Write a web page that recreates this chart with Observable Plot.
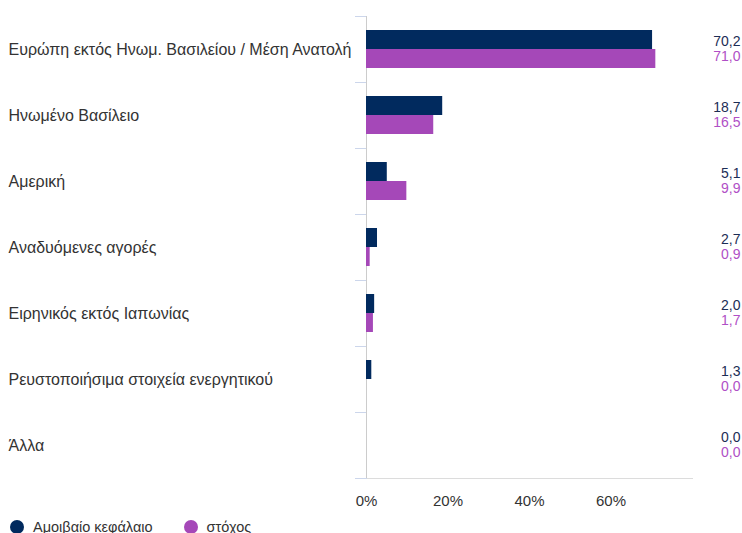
<!DOCTYPE html>
<html>
<head>
<meta charset="utf-8">
<script src="https://cdn.jsdelivr.net/npm/d3@7"></script>
<script src="https://cdn.jsdelivr.net/npm/@observablehq/plot@0.6"></script>
<style>
  html, body { margin: 0; padding: 0; background: #fff; }
  body { font-family: "Liberation Sans", Arial, sans-serif; width: 742px; overflow: hidden; }
  #chart svg { display: block; }
  #legend { display: flex; align-items: center; height: 29px; padding-left: 10px; font-size: 14.5px; color: #333; }
  .item { display: flex; align-items: center; }
  .item + .item { margin-left: 31px; }
  .dot { width: 14px; height: 14px; border-radius: 50%; margin-right: 9px; }
</style>
</head>
<body>
<div id="chart"></div>
<div id="legend"></div>
<script>
const categories = [
  "Ευρώπη εκτός Ηνωμ. Βασιλείου / Μέση Ανατολή",
  "Ηνωμένο Βασίλειο",
  "Αμερική",
  "Αναδυόμενες αγορές",
  "Ειρηνικός εκτός Ιαπωνίας",
  "Ρευστοποιήσιμα στοιχεία ενεργητικού",
  "Άλλα"
];
const seriesNames = ["Αμοιβαίο κεφάλαιο", "στόχος"];
const fundValues = [70.2, 18.7, 5.1, 2.7, 2.0, 1.3, 0.0];
const targetValues = [71.0, 16.5, 9.9, 0.9, 1.7, 0.0, 0.0];
const xTicks = [0, 20, 40, 60];
const seriesColors = ["#012a5e", "#a548b8"];
const labelColors = ["#1c2d55", "#b04fc6"];

const rows = categories.flatMap((c, i) => [
  {category: c, series: seriesNames[0], value: fundValues[i]},
  {category: c, series: seriesNames[1], value: targetValues[i]}
]);
const fmt = v => v.toFixed(1).replace(".", ",");

const W = 742, H = 512, ML = 366, MR = 50, MT = 13, MB = 32;
const plotW = W - ML - MR;

const chart = Plot.plot({
  width: W,
  height: H,
  marginLeft: ML,
  marginRight: MR,
  marginTop: MT,
  marginBottom: MB,
  style: {fontFamily: "'Liberation Sans', Arial, sans-serif", fontSize: "14px", color: "#333", background: "#fff"},
  x: {domain: [0, 80], axis: null},
  y: {domain: seriesNames, paddingInner: 0, paddingOuter: 0.667, axis: null},
  fy: {domain: categories, padding: 0, axis: null},
  color: {domain: seriesNames, range: seriesColors},
  marks: [
    Plot.frame({anchor: "top", stroke: "#ccd6eb", insetLeft: -11, insetRight: plotW}),
    Plot.frame({anchor: "bottom", stroke: "#dcdcdc", facet: "super"}),
    Plot.frame({anchor: "bottom", stroke: "#ccd6eb", insetLeft: -11, insetRight: plotW, facet: "super"}),
    Plot.ruleX([0], {stroke: "#cccccc"}),
    Plot.barX(rows, {fy: "category", y: "series", x: "value", fill: "series", inset: 0, x1: 0}),
    Plot.text(rows.filter(d => d.series === seriesNames[0]), {
      fy: "category", y: "series", text: d => fmt(d.value), fill: labelColors[0],
      frameAnchor: "right", textAnchor: "end", dx: MR - 2, dy: 1.5, fontSize: 14
    }),
    Plot.text(rows.filter(d => d.series === seriesNames[1]), {
      fy: "category", y: "series", text: d => fmt(d.value), fill: labelColors[1],
      frameAnchor: "right", textAnchor: "end", dx: MR - 2, dy: -2.5, fontSize: 14
    }),
    Plot.axisFy({anchor: "left", tickSize: 0, tickPadding: ML - 8, textAnchor: "start", label: null, fontSize: 16, fill: "#333"}),
    Plot.axisX(xTicks, {anchor: "bottom", tickSize: 0, tickPadding: 17, tickFormat: d => d + "%", label: null, fontSize: 15, fill: "#333"})
  ]
});
document.getElementById("chart").appendChild(chart);

const legend = document.getElementById("legend");
seriesNames.forEach((name, i) => {
  const item = document.createElement("div");
  item.className = "item";
  const dot = document.createElement("span");
  dot.className = "dot";
  dot.style.background = seriesColors[i];
  const label = document.createElement("span");
  label.textContent = name;
  item.appendChild(dot);
  item.appendChild(label);
  legend.appendChild(item);
});
</script>
</body>
</html>
